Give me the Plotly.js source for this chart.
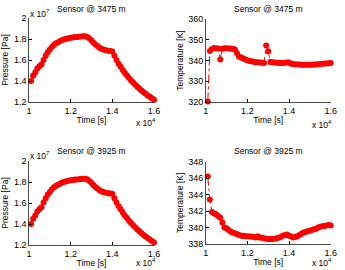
<!DOCTYPE html>
<html><head><meta charset="utf-8">
<script src="https://cdn.plot.ly/plotly-3.0.1.min.js"></script>
<style>html,body{margin:0;padding:0;background:#fff}#c{width:345px;height:270px}</style>
</head><body><div id="c"></div>
<script>
// time samples [s]
const time = [];
for (let t = 10100; t <= 16000; t += 100) time.push(t);

const titleTop = "Sensor @ 3475 m";
const titleBottom = "Sensor @ 3925 m";

// Pressure [Pa] at 3475 m
const pressure3475 = [1.40e7,1.45e7,1.48e7,1.52e7,1.54e7,1.56e7,1.60e7,1.64e7,1.675e7,1.70e7,
 1.725e7,1.745e7,1.76e7,1.77e7,1.78e7,1.79e7,1.797e7,1.803e7,1.808e7,1.812e7,
 1.815e7,1.818e7,1.82e7,1.822e7,1.824e7,1.826e7,1.827e7,1.82e7,1.805e7,1.785e7,
 1.765e7,1.745e7,1.73e7,1.715e7,1.705e7,1.698e7,1.692e7,1.688e7,1.686e7,1.682e7,
 1.64e7,1.60e7,1.565e7,1.535e7,1.505e7,1.478e7,1.452e7,1.428e7,1.405e7,1.385e7,
 1.365e7,1.345e7,1.327e7,1.31e7,1.293e7,1.278e7,1.263e7,1.249e7,1.235e7,1.222e7];

// Temperature [K] at 3475 m
const temperature3475 = [320.3,344.6,345.6,346.0,345.9,345.8,340.5,345.7,345.9,345.9,
 345.8,345.8,345.7,345.3,343.6,341.8,341.4,341.0,340.5,340.1,
 339.8,339.6,339.4,339.2,339.1,339.0,338.9,338.8,347.2,344.5,
 339.3,339.1,339.0,338.9,338.9,338.8,338.8,338.9,339.0,339.0,
 338.4,338.2,338.2,338.1,338.1,338.0,338.0,338.0,338.0,338.0,
 338.0,338.1,338.1,338.2,338.3,338.4,338.5,338.6,338.7,338.8];

// Pressure [Pa] at 3925 m
const pressure3925 = [1.40e7,1.45e7,1.48e7,1.52e7,1.54e7,1.56e7,1.605e7,1.645e7,1.68e7,1.705e7,
 1.73e7,1.75e7,1.765e7,1.775e7,1.785e7,1.795e7,1.802e7,1.808e7,1.813e7,1.817e7,
 1.82e7,1.823e7,1.825e7,1.827e7,1.829e7,1.831e7,1.832e7,1.825e7,1.81e7,1.79e7,
 1.77e7,1.75e7,1.735e7,1.72e7,1.71e7,1.703e7,1.697e7,1.693e7,1.69e7,1.687e7,
 1.645e7,1.605e7,1.57e7,1.54e7,1.51e7,1.482e7,1.456e7,1.432e7,1.409e7,1.388e7,
 1.368e7,1.348e7,1.33e7,1.313e7,1.296e7,1.281e7,1.266e7,1.252e7,1.238e7,1.225e7];

// Temperature [K] at 3925 m
const temperature3925 = [346.2,343.4,341.9,341.7,341.6,341.4,341.2,340.6,340.0,339.9,
 339.7,339.5,339.4,339.3,339.2,339.1,339.0,339.0,338.95,338.95,
 338.9,338.9,338.85,338.8,338.95,338.8,338.75,338.7,338.65,338.6,
 338.6,338.6,338.65,338.7,338.75,338.85,339.0,339.1,339.15,339.0,
 338.9,338.8,338.85,338.95,339.1,339.25,339.4,339.45,339.55,339.6,
 339.7,339.8,339.85,340.0,340.1,340.15,340.2,340.25,340.3,340.25];

const xTickVals = [10000,12000,14000,16000];
const xTickText = ["1","1.2","1.4","1.6"];
const pTickVals = [1.2e7,1.4e7,1.6e7,1.8e7,2e7];
const pTickText = ["1.2","1.4","1.6","1.8","2"];
const tTopTicks = [320,330,340,350,360];
const tBotTicks = [338,340,342,344,346,348];

const red = "#ff0000";
function tr(y, xa, ya) {
  return {x: time, y: y, xaxis: xa, yaxis: ya, type: "scatter", mode: "lines+markers",
    line: {color: red, width: 1, dash: "dashdot"},
    marker: {color: red, size: 6}, hoverinfo: "skip", showlegend: false, cliponaxis: false};
}
const F = {family: "Liberation Sans, Arial, sans-serif", size: 9, color: "#000"};
const FT = {family: "Liberation Sans, Arial, sans-serif", size: 8.5, color: "#000"};
function xax(dom, anchor) {
  return {domain: dom, anchor: anchor, range: [10000,16000], tickvals: xTickVals, ticktext: xTickText,
    showline: true, linecolor: "#000", linewidth: 0.7, ticks: "inside", ticklen: 3, tickcolor: "#000",
    showgrid: false, zeroline: false, tickfont: F, title: {text: "Time [s]", font: FT, standoff: 1}};
}
function yax(dom, anchor, range, vals, text, title) {
  return {domain: dom, anchor: anchor, range: range, tickvals: vals, ticktext: text || vals.map(String),
    showline: true, linecolor: "#000", linewidth: 0.7, ticks: "inside", ticklen: 3, tickcolor: "#000",
    showgrid: false, zeroline: false, tickfont: F, title: {text: title, font: FT, standoff: 3}};
}
const xL = [29/345, 154/345], xR = [205.7/345, 330.7/345];
function ann(text, px, py, xa) {
  return {text: text, x: px/345, y: 1-py/270, xref: "paper", yref: "paper", showarrow: false,
    font: FT, xanchor: xa, yanchor: "middle"};
}
const layout = {
  width: 345, height: 270, margin: {l: 0, r: 0, t: 0, b: 0},
  paper_bgcolor: "#fff", plot_bgcolor: "#fff", font: F, showlegend: false,
  xaxis: xax(xL, "y"),
  yaxis: yax([1-102/270, 1-18/270], "x", [1.2e7, 2e7], pTickVals, pTickText, "Pressure [Pa]"),
  xaxis2: xax(xR, "y2"),
  yaxis2: yax([1-102/270, 1-19/270], "x2", [320, 360], tTopTicks, null, "Temperature [K]"),
  xaxis3: xax(xL, "y3"),
  yaxis3: yax([1-245/270, 1-161/270], "x3", [1.2e7, 2e7], pTickVals, pTickText, "Pressure [Pa]"),
  xaxis4: xax(xR, "y4"),
  yaxis4: yax([1-244/270, 1-161.7/270], "x4", [338, 348], tBotTicks, null, "Temperature [K]"),
  annotations: [
    ann(titleTop, 91.5, 9, "center"),
    ann(titleTop, 268, 9, "center"),
    ann(titleBottom, 91.5, 150.5, "center"),
    ann(titleBottom, 268, 150.5, "center"),
    ann("x 10<sup>7</sup>", 28, 13, "left"),
    ann("x 10<sup>7</sup>", 28, 155, "left"),
    ann("x 10<sup>4</sup>", 134, 123, "left"),
    ann("x 10<sup>4</sup>", 310, 124, "left"),
    ann("x 10<sup>4</sup>", 134, 262, "left"),
    ann("x 10<sup>4</sup>", 310, 262, "left")
  ]
};
const data = [
  tr(pressure3475, "x", "y"),
  tr(temperature3475, "x2", "y2"),
  tr(pressure3925, "x3", "y3"),
  tr(temperature3925, "x4", "y4")
];
Plotly.newPlot("c", data, layout, {staticPlot: true, displayModeBar: false});
</script></body></html>
